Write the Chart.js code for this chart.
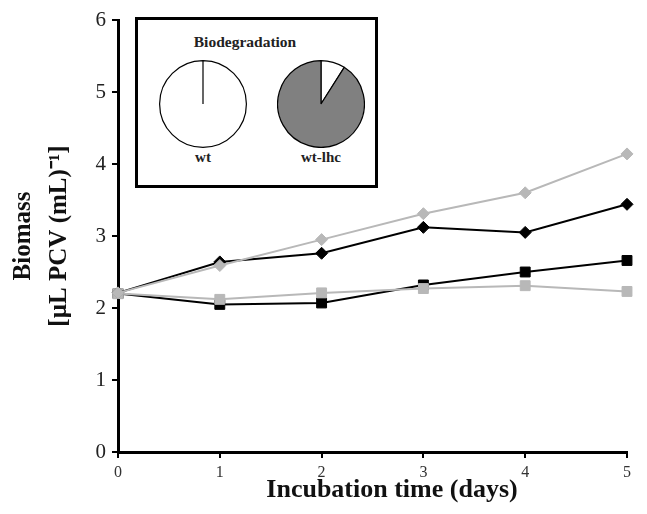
<!DOCTYPE html>
<html>
<head>
<meta charset="utf-8">
<script src="https://cdn.jsdelivr.net/npm/chart.js@4.4.0/dist/chart.umd.min.js"></script>
<style>
  html, body { margin: 0; padding: 0; background: #fff; }
  #wrap { position: relative; width: 647px; height: 514px; }
  #inset {
    position: absolute; left: 135px; top: 17px; width: 237px; height: 165px;
    border: 3px solid #000; background: #fff;
  }
  .lbl {
    position: absolute; font-family: "Liberation Serif", serif; font-weight: bold;
    color: #222; text-align: center; white-space: nowrap;
  }
  .pie { position: absolute; }
</style>
</head>
<body>
<div id="wrap">
  <canvas id="mainChart" width="647" height="514"></canvas>
  <div id="inset"></div>
  <div class="lbl" style="left:185px;top:33px;width:120px;font-size:15.5px;">Biodegradation</div>
  <canvas class="pie" id="pieWt" width="88" height="88" style="left:159px;top:60px;"></canvas>
  <canvas class="pie" id="pieLhc" width="88" height="88" style="left:277px;top:60px;"></canvas>
  <div class="lbl" style="left:173px;top:149px;width:60px;font-size:15px;">wt</div>
  <div class="lbl" style="left:281px;top:149px;width:80px;font-size:15px;">wt-lhc</div>
</div>
<script>
// Tage der Inkubation
const days = [0, 1, 2, 3, 4, 5];

// Biomasse-Werte
const greyDiamonds = [2.21, 2.59, 2.95, 3.31, 3.60, 4.14];
const blackDiamonds = [2.21, 2.64, 2.76, 3.12, 3.05, 3.44];
const blackSquares = [2.20, 2.05, 2.07, 2.32, 2.50, 2.66];
const greySquares = [2.20, 2.12, 2.21, 2.27, 2.31, 2.23];

const yTicks = [0, 1, 2, 3, 4, 5, 6];

// Kuchendiagramme: [verbleibend (weiss), abgebaut (grau)]
const pieLabels = ["remaining", "degraded"];
const wtShares = [100, 0];
const lhcShares = [9, 91];

const GREY = "#b8b8b8";

function toPoints(vals) {
  return days.map(function (d, i) { return { x: d, y: vals[i] }; });
}

function makeSeries(label, vals, color, style, radius) {
  return {
    label: label,
    data: toPoints(vals),
    borderColor: color,
    backgroundColor: color,
    borderWidth: 2,
    pointStyle: style,
    pointRadius: radius,
    pointBorderWidth: 1,
    pointBorderColor: color,
    pointBackgroundColor: color,
    tension: 0,
    clip: false,
  };
}

new Chart(document.getElementById("mainChart"), {
  type: "line",
  data: {
    datasets: [
      makeSeries("grey diamonds", greyDiamonds, GREY, "rectRot", 6),
      makeSeries("black diamonds", blackDiamonds, "#000", "rectRot", 6),
      makeSeries("grey squares", greySquares, GREY, "rect", 7),
      makeSeries("black squares", blackSquares, "#000", "rect", 7),
    ],
  },
  options: {
    responsive: false,
    animation: false,
    devicePixelRatio: 1,
    layout: { padding: { top: 20, right: 20, left: 0, bottom: 0 } },
    plugins: { legend: { display: false }, tooltip: { enabled: false } },
    scales: {
      x: {
        type: "linear",
        min: 0,
        max: 5,
        border: { color: "#000", width: 3 },
        grid: { drawOnChartArea: false, color: "#000", tickLength: 6, lineWidth: 2 },
        ticks: {
          stepSize: 1,
          color: "#333",
          padding: 5,
          font: { family: "Liberation Serif", size: 16 },
        },
        title: {
          display: true,
          // Titel sitzt im Original etwas rechts der Mitte
          text: "\u2002\u2002\u2002Incubation time (days)",
          color: "#111",
          padding: { top: 0, bottom: 8 },
          font: { family: "Liberation Serif", size: 26, weight: "bold", lineHeight: 1.2 },
        },
        afterFit: function (scale) { scale.height = 62; },
      },
      y: {
        min: 0,
        max: 6,
        border: { color: "#000", width: 3 },
        grid: { drawOnChartArea: false, color: "#000", tickLength: 6, lineWidth: 2 },
        afterBuildTicks: function (scale) {
          scale.ticks = yTicks.map(function (v) { return { value: v }; });
        },
        ticks: {
          color: "#222",
          padding: 6,
          font: { family: "Liberation Serif", size: 21 },
        },
        title: {
          display: true,
          text: ["Biomass", "[µL PCV (mL)⁻¹]"],
          color: "#111",
          padding: { top: 5, bottom: 0 },
          font: { family: "Liberation Serif", size: 25, weight: "bold", lineHeight: 1.45 },
        },
        afterFit: function (scale) { scale.width = 118; },
      },
    },
  },
});

function makePie(id, shares) {
  new Chart(document.getElementById(id), {
    type: "pie",
    data: {
      labels: pieLabels,
      datasets: [{
        data: shares,
        backgroundColor: ["#ffffff", "#808080"],
        borderColor: "#000",
        borderWidth: 1.2,
      }],
    },
    options: {
      responsive: false,
      animation: false,
      devicePixelRatio: 1,
      layout: { padding: 0 },
      plugins: { legend: { display: false }, tooltip: { enabled: false } },
    },
  });
}

makePie("pieWt", wtShares);
makePie("pieLhc", lhcShares);
</script>
</body>
</html>
